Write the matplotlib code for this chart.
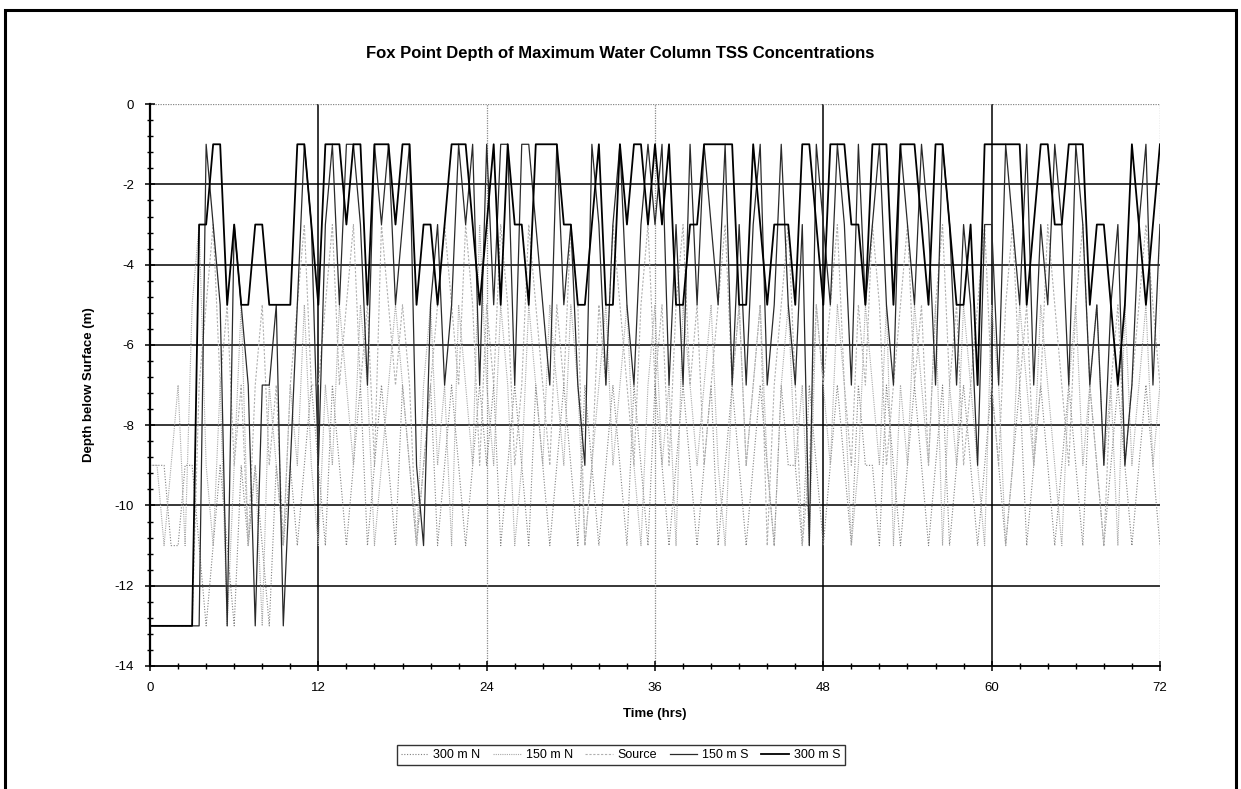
import numpy as np
import matplotlib

matplotlib.use('Agg')
import matplotlib.pyplot as plt
from matplotlib.patches import Rectangle
from matplotlib.ticker import MultipleLocator

plt.rcParams['font.family'] = ['Liberation Sans', 'DejaVu Sans']
plt.rcParams['axes.unicode_minus'] = False

# === Данные: глубина (м) каждые 0.5 ч, 0..72 ч ===
hours = np.arange(0, 72.5, 0.5)

depth_300m_s = [
    -13, -13, -13, -13, -13, -13, -13, -3, -3, -1, -1, -5, -3, -5, -5, -3, -3, -5, -5, -5, -5, -1, -1, -3,
    -5, -1, -1, -1, -3, -1, -1, -5, -1, -1, -1, -3, -1, -1, -5, -3, -3, -5, -3, -1, -1, -1, -3, -5,
    -3, -1, -5, -1, -3, -3, -5, -1, -1, -1, -1, -3, -3, -5, -5, -3, -1, -5, -5, -1, -3, -1, -1, -3,
    -1, -3, -1, -5, -5, -3, -3, -1, -1, -1, -1, -1, -5, -5, -1, -3, -5, -3, -3, -3, -5, -1, -1, -3,
    -5, -1, -1, -1, -3, -3, -5, -1, -1, -1, -5, -1, -1, -1, -3, -5, -1, -1, -3, -5, -5, -3, -7, -1,
    -1, -1, -1, -1, -1, -5, -3, -1, -1, -3, -3, -1, -1, -1, -5, -3, -3, -5, -7, -5, -1, -3, -5, -3, -1,
]
depth_150m_s = [
    -13, -13, -13, -13, -13, -13, -13, -13, -1, -3, -5, -13, -3, -5, -7, -13, -7, -7, -5, -13, -9, -5, -1, -3,
    -9, -3, -1, -5, -1, -1, -3, -7, -1, -3, -1, -5, -3, -1, -9, -11, -5, -3, -7, -5, -1, -3, -1, -7,
    -1, -5, -1, -1, -7, -1, -1, -3, -5, -7, -1, -5, -3, -7, -9, -1, -3, -7, -3, -1, -5, -7, -3, -1,
    -3, -1, -7, -3, -7, -1, -5, -1, -3, -5, -1, -7, -3, -7, -3, -1, -7, -5, -1, -5, -7, -3, -11, -1,
    -3, -5, -1, -3, -7, -1, -5, -3, -1, -5, -7, -1, -3, -5, -1, -3, -7, -1, -3, -7, -3, -5, -9, -3,
    -3, -7, -1, -3, -5, -1, -7, -3, -5, -1, -3, -7, -1, -3, -7, -5, -9, -5, -3, -9, -7, -3, -1, -7, -3,
]
depth_source = [
    -13, -13, -13, -13, -13, -13, -13, -7, -5, -3, -7, -5, -9, -7, -11, -7, -5, -9, -7, -11, -7, -5, -3, -7,
    -7, -5, -3, -7, -5, -3, -7, -5, -9, -3, -5, -7, -5, -7, -11, -9, -7, -5, -3, -5, -7, -3, -5, -9,
    -5, -7, -3, -5, -9, -7, -3, -5, -7, -9, -5, -7, -3, -5, -11, -9, -5, -7, -3, -5, -7, -9, -5, -3,
    -7, -5, -9, -5, -3, -7, -5, -9, -7, -5, -3, -7, -5, -9, -7, -5, -11, -7, -5, -3, -7, -11, -9, -5,
    -7, -5, -3, -7, -9, -5, -7, -3, -5, -9, -7, -5, -3, -7, -5, -9, -5, -3, -7, -5, -9, -7, -5, -3,
    -7, -9, -5, -3, -7, -5, -9, -7, -3, -5, -7, -9, -5, -3, -7, -9, -11, -7, -5, -9, -7, -5, -3, -5, -7,
]
depth_150m_n = [
    -9, -9, -11, -9, -7, -11, -5, -3, -9, -11, -7, -13, -9, -5, -11, -9, -13, -7, -9, -11, -7, -9, -5, -9,
    -11, -7, -9, -5, -7, -9, -5, -7, -11, -9, -7, -5, -7, -9, -11, -7, -5, -9, -7, -11, -5, -7, -9, -3,
    -7, -9, -5, -7, -11, -9, -5, -7, -9, -5, -7, -9, -5, -7, -11, -9, -7, -5, -9, -7, -5, -9, -11, -7,
    -5, -9, -7, -11, -5, -7, -9, -7, -5, -9, -11, -7, -5, -9, -7, -5, -9, -11, -7, -5, -9, -7, -11, -5,
    -7, -9, -5, -7, -11, -9, -5, -7, -9, -5, -11, -7, -9, -5, -7, -9, -5, -11, -7, -9, -5, -7, -9, -11,
    -5, -7, -11, -9, -5, -7, -9, -5, -7, -9, -11, -7, -5, -9, -7, -5, -9, -7, -11, -5, -9, -7, -5, -9, -7,
]
depth_300m_n = [
    -9, -9, -9, -11, -11, -9, -9, -11, -13, -11, -9, -11, -13, -9, -11, -9, -11, -13, -9, -11, -9, -11, -9, -7,
    -9, -11, -7, -9, -11, -9, -7, -11, -9, -7, -9, -11, -7, -9, -11, -9, -7, -11, -9, -7, -9, -11, -9, -7,
    -9, -7, -11, -9, -7, -9, -11, -7, -9, -11, -9, -7, -9, -11, -7, -9, -11, -9, -7, -9, -11, -7, -9, -11,
    -7, -9, -11, -9, -7, -9, -11, -9, -7, -11, -9, -7, -9, -11, -9, -7, -9, -11, -7, -9, -9, -11, -7, -9,
    -11, -9, -7, -9, -11, -7, -9, -9, -11, -7, -9, -11, -9, -7, -9, -11, -9, -7, -11, -9, -7, -9, -11, -9,
    -7, -9, -11, -9, -7, -11, -9, -7, -9, -11, -9, -7, -9, -11, -7, -9, -11, -9, -7, -9, -11, -9, -7, -9, -11,
]

series_labels = ['300 m N', '150 m N', 'Source', '150 m S', '300 m S']

# === Рисунок ===
fig = plt.figure(figsize=(12.41, 7.89), dpi=100)
ax = fig.add_axes([0.1209, 0.1559, 0.8138, 0.7121])

# сетка как в Excel
for y in range(-12, 0, 2):
    ax.axhline(y, color='black', lw=1.1, zorder=1)
for x in [12, 48, 60]:
    ax.axvline(x, color='black', lw=1.1, zorder=1)
for x in [24, 36, 72]:
    ax.axvline(x, color='#888888', lw=0.9, linestyle=(0, (1, 1)), zorder=1)
ax.axhline(0, color='#888888', lw=0.9, linestyle=(0, (1, 1)), zorder=1)

ax.plot(hours, depth_300m_n, color='#808080', lw=0.8, linestyle=(0, (1, 1.5)), label=series_labels[0], zorder=2)
ax.plot(hours, depth_150m_n, color='#a8a8a8', lw=0.8, linestyle=(0, (1, 1)), label=series_labels[1], zorder=2)
ax.plot(hours, depth_source, color='#b0b0b0', lw=0.8, linestyle=(0, (2, 1.5)), label=series_labels[2], zorder=2)
ax.plot(hours, depth_150m_s, color='#2a2a2a', lw=0.9, label=series_labels[3], zorder=3)
ax.plot(hours, depth_300m_s, color='black', lw=1.3, label=series_labels[4], zorder=4)

ax.set_xlim(0, 72)
ax.set_ylim(-14, 0)
ax.set_xticks(range(0, 73, 12))
ax.set_yticks(range(-14, 1, 2))
ax.xaxis.set_minor_locator(MultipleLocator(2))
ax.yaxis.set_minor_locator(MultipleLocator(0.4))
ax.tick_params(which='major', direction='inout', length=7, width=1.1, labelsize=9.5, pad=8)
ax.tick_params(which='minor', direction='inout', length=5, width=1.0)

for side in ['top', 'right']:
    ax.spines[side].set_visible(False)
ax.spines['left'].set_linewidth(1.6)
ax.spines['bottom'].set_linewidth(1.3)

ax.set_xlabel('Time (hrs)', fontsize=9.5, fontweight='bold', labelpad=10)
ax.set_ylabel('Depth below Surface (m)', fontsize=9.5, fontweight='bold', labelpad=14)
fig.suptitle('Fox Point Depth of Maximum Water Column TSS Concentrations',
             fontsize=12, fontweight='bold', y=0.942)

leg = fig.legend(loc='center', bbox_to_anchor=(0.5, 0.043), ncol=5, fontsize=9,
                 frameon=True, fancybox=False, handlelength=2.2, columnspacing=1.0,
                 handletextpad=0.4, borderpad=0.35)
leg.get_frame().set_edgecolor('black')
leg.get_frame().set_linewidth(1.0)

# рамка вокруг всего рисунка
fig.patches.append(Rectangle((0.004, -0.01), 0.992, 0.997, transform=fig.transFigure,
                             fill=False, edgecolor='black', lw=2.2))

fig.savefig('out.png', dpi=100)
